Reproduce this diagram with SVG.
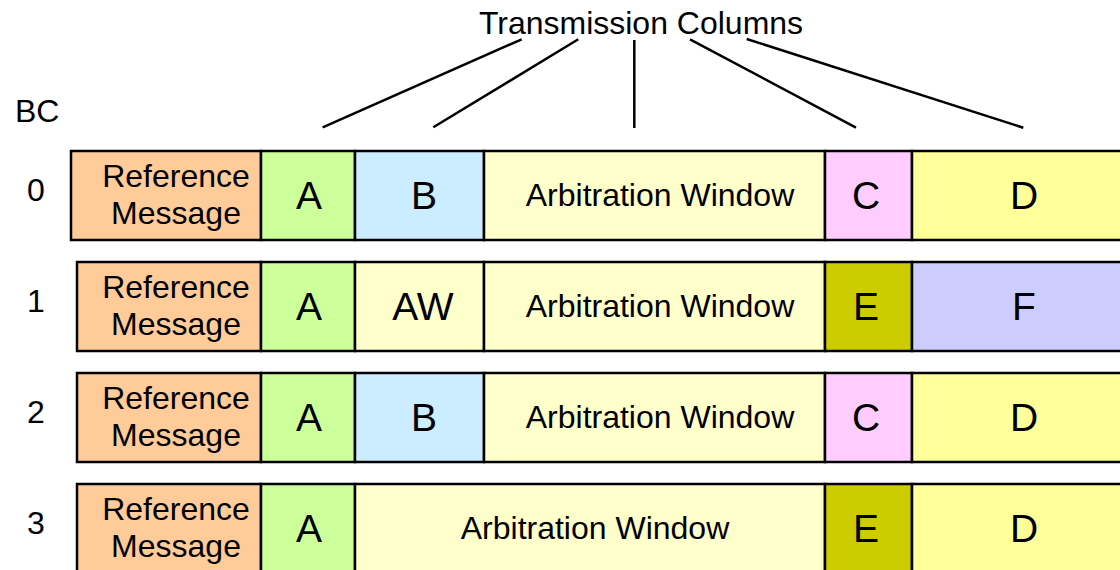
<svg xmlns="http://www.w3.org/2000/svg" width="1120" height="570" viewBox="0 0 1120 570">
<style>
text{font-family:"Liberation Sans",Arial,sans-serif;fill:#000}
.t{font-size:32px}
.m{text-anchor:middle}
.big{font-size:39px;text-anchor:middle}
.c{stroke:#000;stroke-width:2.5}
.ref{fill:#FFCC99}.a{fill:#CCFF99}.b{fill:#CCECFF}.w{fill:#FFFFCC}.cc{fill:#FFCCFF}.d{fill:#FFFF99}.e{fill:#CCCC00}.f{fill:#CCCCFF}
.ln{stroke:#000;stroke-width:2.5;fill:none}
</style>
<rect width="1120" height="570" fill="#fff"/>
<text class="t m" x="641" y="34">Transmission Columns</text>
<text class="t" x="15" y="122">BC</text>
<g id="connectors">
<line class="ln" x1="521.7" y1="39.3" x2="322.7" y2="127.3"/>
<line class="ln" x1="578.3" y1="39.3" x2="433.3" y2="127.3"/>
<line class="ln" x1="634.3" y1="40" x2="634.3" y2="128"/>
<line class="ln" x1="690" y1="39.3" x2="856" y2="127.7"/>
<line class="ln" x1="746.7" y1="39" x2="1023.3" y2="127.7"/>
</g>
<g id="row0">
<text class="t m" x="36" y="201">0</text>
<rect class="c ref" x="71" y="151" width="190" height="89"/>
<text class="t m" x="176" y="187">Reference</text><text class="t m" x="176" y="224">Message</text>
<rect class="c a" x="261" y="151" width="94" height="89"/><text class="big" x="309" y="209">A</text>
<rect class="c b" x="355" y="151" width="129" height="89"/><text class="big" x="424" y="209">B</text>
<rect class="c w" x="484" y="151" width="341" height="89"/><text class="t m" x="660" y="206">Arbitration Window</text>
<rect class="c cc" x="825" y="151" width="87" height="89"/><text class="big" x="866" y="209">C</text>
<rect class="c d" x="912" y="151" width="215" height="89"/><text class="big" x="1024" y="209">D</text>
</g>
<g id="row1">
<text class="t m" x="36" y="312">1</text>
<rect class="c ref" x="77" y="262" width="184" height="89"/>
<text class="t m" x="176" y="298">Reference</text><text class="t m" x="176" y="335">Message</text>
<rect class="c a" x="261" y="262" width="94" height="89"/><text class="big" x="309" y="320">A</text>
<rect class="c w" x="355" y="262" width="129" height="89"/><text class="big" x="423" y="320">AW</text>
<rect class="c w" x="484" y="262" width="341" height="89"/><text class="t m" x="660" y="317">Arbitration Window</text>
<rect class="c e" x="825" y="262" width="87" height="89"/><text class="big" x="866" y="320">E</text>
<rect class="c f" x="912" y="262" width="215" height="89"/><text class="big" x="1024" y="320">F</text>
</g>
<g id="row2">
<text class="t m" x="36" y="423">2</text>
<rect class="c ref" x="77" y="373" width="184" height="89"/>
<text class="t m" x="176" y="409">Reference</text><text class="t m" x="176" y="446">Message</text>
<rect class="c a" x="261" y="373" width="94" height="89"/><text class="big" x="309" y="431">A</text>
<rect class="c b" x="355" y="373" width="129" height="89"/><text class="big" x="424" y="431">B</text>
<rect class="c w" x="484" y="373" width="341" height="89"/><text class="t m" x="660" y="428">Arbitration Window</text>
<rect class="c cc" x="825" y="373" width="87" height="89"/><text class="big" x="866" y="431">C</text>
<rect class="c d" x="912" y="373" width="215" height="89"/><text class="big" x="1024" y="431">D</text>
</g>
<g id="row3">
<text class="t m" x="36" y="534">3</text>
<rect class="c ref" x="77" y="484" width="184" height="89"/>
<text class="t m" x="176" y="520">Reference</text><text class="t m" x="176" y="557">Message</text>
<rect class="c a" x="261" y="484" width="94" height="89"/><text class="big" x="309" y="542">A</text>
<rect class="c w" x="355" y="484" width="470" height="89"/><text class="t m" x="595" y="539">Arbitration Window</text>
<rect class="c e" x="825" y="484" width="87" height="89"/><text class="big" x="866" y="542">E</text>
<rect class="c d" x="912" y="484" width="215" height="89"/><text class="big" x="1024" y="542">D</text>
</g>
</svg>
